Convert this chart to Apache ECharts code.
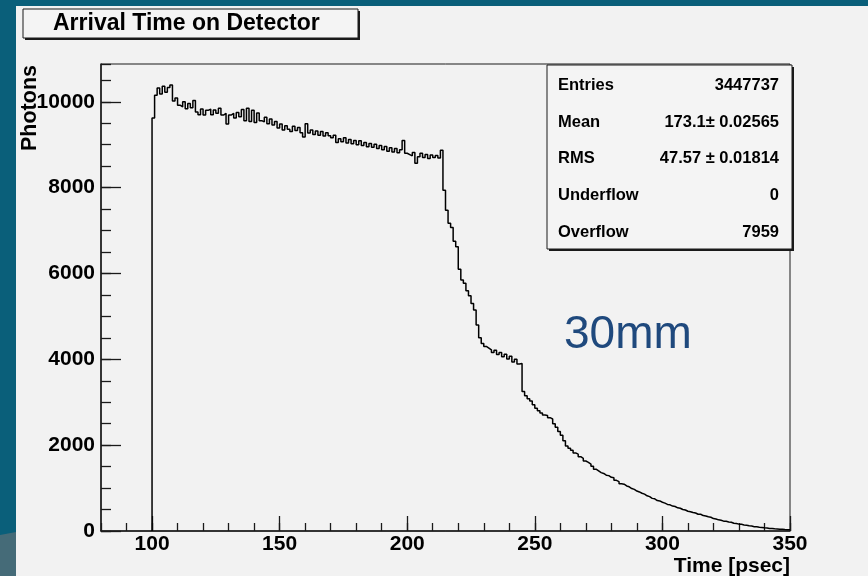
<!DOCTYPE html>
<html>
<head>
<meta charset="utf-8">
<script src="https://cdn.jsdelivr.net/npm/echarts@6/dist/echarts.min.js"></script>
<style>
html,body{margin:0;padding:0;background:#0a5f7a;}
#chart{width:868px;height:576px;}
</style>
</head>
<body>
<div id="chart"></div>
<script>
// ---- data ----
const chartTitle = 'Arrival Time on Detector';
const xTitle = 'Time [psec]';
const yTitle = 'Photons';
const binLow = 100;      // lower edge of first bin (psec)
const binWidth = 1;      // psec
const counts = [
  9620,10150,10320,10180,10360,10220,10330,10390,10020,10090,
  9920,9880,10000,9840,9960,9860,10030,9760,9700,9830,
  9690,9800,9830,9700,9810,9730,9850,9690,9730,9480,
  9690,9730,9620,9750,9650,9820,9560,9850,9540,9800,
  9520,9740,9560,9530,9640,9490,9600,9460,9540,9390,
  9480,9340,9440,9360,9310,9430,9330,9400,9280,9180,
  9490,9270,9340,9240,9320,9220,9310,9200,9280,9210,
  9160,9220,9050,9140,9070,9160,9040,9120,9020,9100,
  9000,9090,8980,9050,8950,9030,8940,9010,8910,8980,
  8880,8960,8850,8930,8830,8910,8810,8880,9100,8800,
  8770,8740,8820,8570,8720,8800,8700,8770,8680,8760,
  8700,8750,8690,8870,7940,7470,7170,7070,6750,6620,
  6100,5850,5770,5600,5480,5300,5150,4800,4500,4370,
  4300,4260,4220,4160,4210,4110,4160,4060,4120,4010,
  4070,3940,4000,3890,3900,3250,3150,3080,3030,2940,
  2860,2800,2750,2700,2690,2640,2610,2500,2420,2320,
  2230,2100,1980,1930,1880,1820,1790,1730,1690,1630,
  1600,1560,1510,1440,1400,1360,1340,1300,1290,1250,
  1240,1180,1150,1100,1090,1050,1030,990,970,930,
  910,880,860,820,800,760,750,710,700,670,
  650,620,610,580,570,540,530,500,490,460,
  450,430,420,390,390,360,350,330,320,290,
  280,260,250,230,225,210,205,180,175,160,
  155,140,135,120,115,100,98,90,84,75,
  72,60,58,50,47,40,40,35,32,28
];
const xMin = 80, xMax = 350;
const yMin = 0, yMax = 10880;
const xMajorTicks = [100, 150, 200, 250, 300, 350];
const yMajorTicks = [0, 2000, 4000, 6000, 8000, 10000];
const statLabels = ['Entries', 'Mean', 'RMS', 'Underflow', 'Overflow'];
const statValues = ['3447737', '173.1\u00b1 0.02565', '47.57 \u00b1 0.01814', '0', '7959'];
const annotation = '30mm';

// ---- build step histogram points ----
const histPoints = [[binLow, 0]];
counts.forEach((c, i) => histPoints.push([binLow + i * binWidth, c]));
histPoints.push([binLow + counts.length * binWidth, counts[counts.length - 1]]);

const FONT = 'Liberation Sans, Arial, Helvetica, sans-serif';
const frame = '#1a1a1a';

const chart = echarts.init(document.getElementById('chart'), null, {renderer: 'canvas'});

const statRowsY = [85, 122, 158, 195, 232];
const statGraphics = [];
statLabels.forEach((lab, i) => {
  statGraphics.push({type: 'text', x: 558, y: statRowsY[i], z: 30,
    style: {text: lab, fill: '#000', font: 'bold 16.5px ' + FONT, align: 'left', verticalAlign: 'middle'}});
  statGraphics.push({type: 'text', x: 779, y: statRowsY[i], z: 30,
    style: {text: statValues[i], fill: '#000', font: 'bold 16.5px ' + FONT, align: 'right', verticalAlign: 'middle'}});
});

const option = {
  animation: false,
  backgroundColor: '#0a5f7a',
  title: {
    text: chartTitle, left: 53, top: 12, padding: 0, z: 60,
    textStyle: {fontFamily: FONT, fontWeight: 'bold', fontSize: 23, color: '#000'}
  },
  grid: {left: 101, top: 64, width: 689, height: 467, show: true,
    borderColor: frame, borderWidth: 1, backgroundColor: 'transparent'},
  xAxis: [
    {type: 'value', min: xMin, max: xMax, position: 'bottom',
      axisLine: {show: true, onZero: false, lineStyle: {color: frame, width: 1.5}},
      axisTick: {show: true, inside: true, length: 15, customValues: xMajorTicks, lineStyle: {color: frame, width: 1.3}},
      axisLabel: {show: true, customValues: xMajorTicks, margin: 3, color: '#000',
        fontFamily: FONT, fontWeight: 'bold', fontSize: 21, formatter: v => String(v)},
      splitLine: {show: false}},
    {type: 'value', min: xMin, max: xMax, interval: 10, position: 'bottom',
      axisLine: {show: false, onZero: false},
      axisTick: {show: true, inside: true, length: 8, lineStyle: {color: frame, width: 1.3}},
      axisLabel: {show: false}, splitLine: {show: false}}
  ],
  yAxis: [
    {type: 'value', min: yMin, max: yMax, position: 'left',
      axisLine: {show: true, onZero: false, lineStyle: {color: frame, width: 1.5}},
      axisTick: {show: true, inside: true, length: 20, customValues: yMajorTicks, lineStyle: {color: frame, width: 1.3}},
      axisLabel: {show: true, customValues: yMajorTicks, margin: 6, color: '#000',
        fontFamily: FONT, fontWeight: 'bold', fontSize: 21, formatter: v => String(v)},
      splitLine: {show: false}},
    {type: 'value', min: yMin, max: yMax, interval: 500, position: 'left',
      axisLine: {show: false, onZero: false},
      axisTick: {show: true, inside: true, length: 10, lineStyle: {color: frame, width: 1.3}},
      axisLabel: {show: false}, splitLine: {show: false}}
  ],
  series: [{
    type: 'line', xAxisIndex: 0, yAxisIndex: 0, data: histPoints, step: 'end',
    symbol: 'none', lineStyle: {color: '#000', width: 1.5}, silent: true, z: 5
  }],
  graphic: [
    // ROOT canvas area and slide background decorations
    {type: 'rect', z: -10, shape: {x: 16, y: 6, width: 852, height: 570}, style: {fill: '#f2f2f2'}},
    {type: 'polygon', z: -9, shape: {points: [[0, 535], [16, 532], [16, 576], [0, 576]]}, style: {fill: '#456b78'}},
    // title box with shadow
    {type: 'rect', z: 20, shape: {x: 25, y: 11, width: 335, height: 29}, style: {fill: '#1a1a1a'}},
    {type: 'rect', z: 21, shape: {x: 23, y: 9, width: 335, height: 29}, style: {fill: '#f4f4f4', stroke: '#1a1a1a', lineWidth: 1}},
    // stats box with shadow
    {type: 'rect', z: 28, shape: {x: 549, y: 67, width: 245, height: 184}, style: {fill: '#1a1a1a'}},
    {type: 'rect', z: 29, shape: {x: 547, y: 65, width: 245, height: 184}, style: {fill: '#f4f4f4', stroke: '#1a1a1a', lineWidth: 1}},
    ...statGraphics,
    // axis titles
    {type: 'text', x: 19, y: 65, rotation: Math.PI / 2, z: 30,
      style: {text: yTitle, fill: '#000', font: 'bold 21.5px ' + FONT, align: 'right', verticalAlign: 'top'}},
    {type: 'text', x: 790, y: 566, z: 30,
      style: {text: xTitle, fill: '#000', font: 'bold 21px ' + FONT, align: 'right', verticalAlign: 'middle'}},
    // annotation
    {type: 'text', x: 564, y: 335, z: 30,
      style: {text: annotation, fill: '#1f497d', font: '46px ' + FONT, align: 'left', verticalAlign: 'middle'}}
  ]
};
chart.setOption(option);
</script>
</body>
</html>
